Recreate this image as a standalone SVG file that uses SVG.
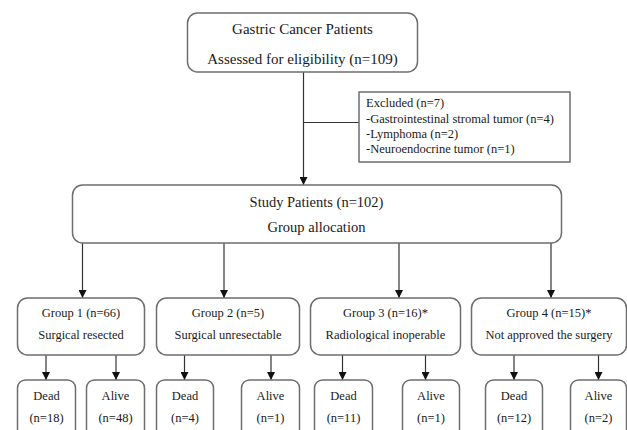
<svg xmlns="http://www.w3.org/2000/svg" width="627" height="430" viewBox="0 0 627 430">
<defs>
<style>
.box{fill:#fff;stroke:#6e6e6e;stroke-width:1.5}
.ln{fill:none;stroke:#333;stroke-width:1.2}
text{font-family:"Liberation Serif","Times New Roman",serif;fill:#1a1a1a}
.big{font-size:15px;text-anchor:middle}
.mid{font-size:14.5px;text-anchor:middle}
.sm{font-size:12.5px;text-anchor:middle}
.ex{font-size:12.5px}
</style>
<marker id="ah" viewBox="0 0 8 8" refX="8" refY="4" markerWidth="8" markerHeight="8" markerUnits="userSpaceOnUse" orient="auto">
<path d="M0,0 L8,4 L0,8 Z" fill="#111"/>
</marker>
</defs>
<rect width="627" height="430" fill="#fff"/>
<g id="connectors">
<line class="ln" x1="303.5" y1="72" x2="303.5" y2="185" marker-end="url(#ah)"/>
<line class="ln" x1="303.5" y1="122.5" x2="359" y2="122.5"/>
<line class="ln" x1="82.5" y1="243" x2="82.5" y2="298" marker-end="url(#ah)"/>
<line class="ln" x1="224" y1="243" x2="224" y2="298" marker-end="url(#ah)"/>
<line class="ln" x1="399" y1="243" x2="399" y2="298" marker-end="url(#ah)"/>
<line class="ln" x1="551" y1="243" x2="551" y2="298" marker-end="url(#ah)"/>
<line class="ln" x1="46" y1="355" x2="46" y2="380" marker-end="url(#ah)"/>
<line class="ln" x1="116" y1="355" x2="116" y2="380" marker-end="url(#ah)"/>
<line class="ln" x1="184.5" y1="355" x2="184.5" y2="380" marker-end="url(#ah)"/>
<line class="ln" x1="271" y1="355" x2="271" y2="380" marker-end="url(#ah)"/>
<line class="ln" x1="342.5" y1="355" x2="342.5" y2="380" marker-end="url(#ah)"/>
<line class="ln" x1="425.5" y1="355" x2="425.5" y2="380" marker-end="url(#ah)"/>
<line class="ln" x1="514" y1="355" x2="514" y2="380" marker-end="url(#ah)"/>
<line class="ln" x1="598.5" y1="355" x2="598.5" y2="380" marker-end="url(#ah)"/>
</g>
<g id="assessed">
<rect class="box" x="187.5" y="13" width="230" height="59" rx="10"/>
<text class="big" x="302.5" y="34">Gastric Cancer Patients</text>
<text class="big" x="302.5" y="64">Assessed for eligibility  (n=109)</text>
</g>
<g id="excluded">
<rect class="box" x="359" y="92" width="211" height="70" rx="0"/>
<text class="ex" x="366" y="107">Excluded  (n=7)</text>
<text class="ex" x="366" y="122.5">-Gastrointestinal  stromal  tumor  (n=4)</text>
<text class="ex" x="366" y="137.5">-Lymphoma  (n=2)</text>
<text class="ex" x="366" y="152.5">-Neuroendocrine  tumor  (n=1)</text>
</g>
<g id="study">
<rect class="box" x="72.5" y="185" width="489" height="58" rx="10"/>
<text class="mid" x="316.5" y="207">Study Patients  (n=102)</text>
<text class="mid" x="316.5" y="232">Group allocation</text>
</g>
<g id="group1">
<rect class="box" x="17.5" y="298" width="127" height="57" rx="10"/>
<text class="sm" x="81" y="317">Group  1 (n=66)</text>
<text class="sm" x="81" y="339">Surgical  resected</text>
</g>
<g id="group2">
<rect class="box" x="156.5" y="298" width="143" height="57" rx="10"/>
<text class="sm" x="228" y="317">Group  2 (n=5)</text>
<text class="sm" x="228" y="339">Surgical  unresectable</text>
</g>
<g id="group3">
<rect class="box" x="310.5" y="298" width="150" height="57" rx="10"/>
<text class="sm" x="385.5" y="317">Group  3 (n=16)*</text>
<text class="sm" x="385.5" y="339">Radiological  inoperable</text>
</g>
<g id="group4">
<rect class="box" x="471.5" y="298" width="155" height="57" rx="10"/>
<text class="sm" x="549" y="317">Group  4 (n=15)*</text>
<text class="sm" x="549" y="339">Not approved the  surgery</text>
</g>
<g id="dead1">
<rect class="box" x="17.5" y="380" width="58" height="60" rx="8"/>
<text class="sm" x="46.5" y="400">Dead</text>
<text class="sm" x="46.5" y="422">(n=18)</text>
</g>
<g id="alive1">
<rect class="box" x="86.5" y="380" width="58" height="60" rx="8"/>
<text class="sm" x="115.5" y="400">Alive</text>
<text class="sm" x="115.5" y="422">(n=48)</text>
</g>
<g id="dead2">
<rect class="box" x="156.5" y="380" width="57" height="60" rx="8"/>
<text class="sm" x="185" y="400">Dead</text>
<text class="sm" x="185" y="422">(n=4)</text>
</g>
<g id="alive2">
<rect class="box" x="241.5" y="380" width="58" height="60" rx="8"/>
<text class="sm" x="270.5" y="400">Alive</text>
<text class="sm" x="270.5" y="422">(n=1)</text>
</g>
<g id="dead3">
<rect class="box" x="314.5" y="380" width="58" height="60" rx="8"/>
<text class="sm" x="343.5" y="400">Dead</text>
<text class="sm" x="343.5" y="422">(n=11)</text>
</g>
<g id="alive3">
<rect class="box" x="402.5" y="380" width="57" height="60" rx="8"/>
<text class="sm" x="431" y="400">Alive</text>
<text class="sm" x="431" y="422">(n=1)</text>
</g>
<g id="dead4">
<rect class="box" x="485.5" y="380" width="57" height="60" rx="8"/>
<text class="sm" x="514" y="400">Dead</text>
<text class="sm" x="514" y="422">(n=12)</text>
</g>
<g id="alive4">
<rect class="box" x="570.5" y="380" width="56" height="60" rx="8"/>
<text class="sm" x="598.5" y="400">Alive</text>
<text class="sm" x="598.5" y="422">(n=2)</text>
</g>
</svg>
